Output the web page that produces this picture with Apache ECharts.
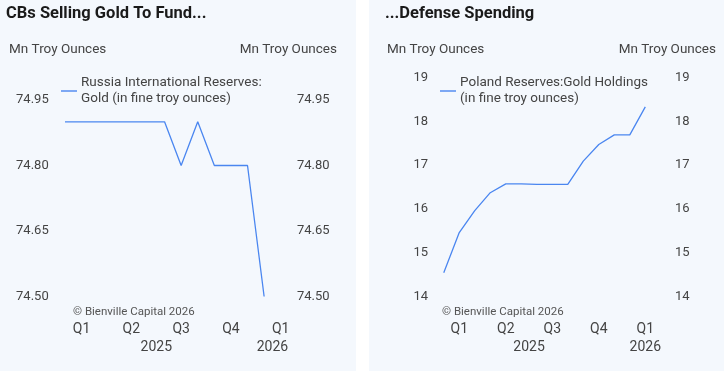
<!DOCTYPE html>
<html><head><meta charset="utf-8">
<script src="https://cdn.jsdelivr.net/npm/echarts@6/dist/echarts.min.js"></script>
<style>
html,body{margin:0;padding:0;background:#fff;width:724px;height:371px;overflow:hidden;}
.panel{position:absolute;top:0;height:371px;background:#f4f8fd;}
#c1{left:0;width:356px;}
#c2{left:369px;width:355px;}
</style></head><body>
<div id="c1" class="panel"></div><div id="c2" class="panel"></div>
<script>
// ---- data ----
const months = ['2025-01','2025-02','2025-03','2025-04','2025-05','2025-06','2025-07',
                '2025-08','2025-09','2025-10','2025-11','2025-12','2026-01','2026-02'];
const russiaGold = [74.90,74.90,74.90,74.90,74.90,74.90,74.90,74.80,74.90,74.80,74.80,74.80,74.50];
const polandGold = [14.54,15.46,15.96,16.37,16.57,16.57,16.56,16.56,16.56,17.09,17.47,17.69,17.69,18.33];
const quarterLabels = ['Q1','Q2','Q3','Q4','Q1'];
const quarterMonths = ['2025-02','2025-05','2025-08','2025-11','2026-02'];
const yearLabels = ['2025','2026'];
const russiaTicks = [74.50,74.65,74.80,74.95];
const polandTicks = [14,15,16,17,18,19];

const FONT = 'Roboto';
const TXT = '#444';
const BLUE = '#4a86f0';

function build(el, cfg) {
  const chart = echarts.init(document.getElementById(el), null, {renderer:'canvas'});
  const qVals = quarterMonths.map(m => months.indexOf(m));
  const data = cfg.values.map((v,i) => [i, v]);
  const xBase = {
    type:'value', min:-0.5, max:cfg.xMax, position:'bottom',
    axisLine:{show:false}, axisTick:{show:false}, splitLine:{show:false}
  };
  const yBase = (pos) => ({
    type:'value', min:cfg.ticks[0], max:cfg.ticks[cfg.ticks.length-1], position:pos,
    axisLine:{show:false}, axisTick:{show:false}, splitLine:{show:false},
    axisLabel:{customValues:cfg.ticks, formatter:v=>v.toFixed(cfg.dec), color:TXT,
               fontFamily:FONT, fontSize:13, margin:8}
  });
  chart.setOption({
    animation:false,
    textStyle:{fontFamily:FONT},
    title:{text:cfg.title, left:cfg.titleLeft, top:5, padding:0,
           textStyle:{fontFamily:FONT, fontSize:16.5, fontWeight:'bold', color:'#1a1a1a'}},
    grid:{left:cfg.gridLeft, right:cfg.gridRight, top:cfg.gridTop, bottom:74.5, containLabel:false},
    legend:{data:[{name:cfg.name, icon:'rect'}], left:cfg.legendLeft, top:75, padding:0,
            itemWidth:16, itemHeight:1.4, itemGap:0,
            textStyle:{fontFamily:FONT, fontSize:13.5, color:TXT, lineHeight:16, padding:[0,0,0,-1]}},
    xAxis:[
      Object.assign({}, xBase, {axisLabel:{customValues:qVals,
        formatter:v=>quarterLabels[qVals.indexOf(Math.round(v))] || '',
        color:TXT, fontFamily:FONT, fontSize:14, margin:26}}),
      Object.assign({}, xBase, {axisLabel:{customValues:cfg.yearAt,
        formatter:v=>yearLabels[cfg.yearAt.indexOf(v)] || '',
        color:TXT, fontFamily:FONT, fontSize:14, margin:44}})
    ],
    yAxis:[yBase('left'), yBase('right')],
    graphic:[
      {type:'text', left:cfg.nameLeft, top:43, style:{text:'Mn Troy Ounces', fill:TXT, font:'13.5px '+FONT}},
      {type:'text', right:cfg.nameRight, top:43, style:{text:'Mn Troy Ounces', fill:TXT, font:'13.5px '+FONT}},
      {type:'text', left:73, top:306, style:{text:'\u00A9 Bienville Capital 2026', fill:'#555', font:'11.5px '+FONT}}
    ],
    series:[{type:'line', name:cfg.name, data:data, xAxisIndex:0, yAxisIndex:0,
             showSymbol:false, symbol:'none', lineStyle:{color:BLUE, width:1.3}, itemStyle:{color:BLUE}}]
  });
}

build('c1', {
  title:'CBs Selling Gold To Fund...', titleLeft:6,
  name:'Russia International Reserves:\nGold (in fine troy ounces)',
  values:russiaGold, ticks:russiaTicks, dec:2,
  xMax:13.5, gridLeft:56.7, gridRight:67, gridTop:100,
  legendLeft:61, yearAt:[5.5,12.5], nameLeft:9, nameRight:19
});
build('c2', {
  title:'...Defense Spending', titleLeft:16,
  name:'Poland Reserves:Gold Holdings\n(in fine troy ounces)',
  values:polandGold, ticks:polandTicks, dec:0,
  xMax:14.4, gridLeft:67, gridRight:57, gridTop:77.5,
  legendLeft:71, yearAt:[5.5,13], nameLeft:18, nameRight:8
});
</script></body></html>
